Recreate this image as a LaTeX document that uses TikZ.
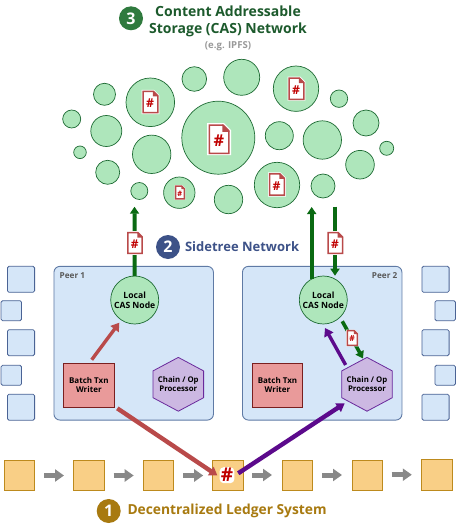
\documentclass[tikz,border=0pt]{standalone}
\usepackage{fontspec}
\setmainfont{Open Sans}[BoldFont={* Bold}]
\usetikzlibrary{arrows.meta,calc}
\definecolor{casfill}{HTML}{AEE6BB}
\definecolor{casline}{HTML}{1E6B34}
\definecolor{peerfill}{HTML}{D5E6F8}
\definecolor{peerline}{HTML}{5F7AA5}
\definecolor{sideline}{HTML}{4A6395}
\definecolor{wrfill}{HTML}{E99A9A}
\definecolor{wrline}{HTML}{7A1F1F}
\definecolor{hexfill}{HTML}{CCB8E2}
\definecolor{hexline}{HTML}{6A2A9C}
\definecolor{ledfill}{HTML}{F9CF86}
\definecolor{ledline}{HTML}{BD8A1D}
\definecolor{greyarrow}{HTML}{888888}
\definecolor{redarrow}{HTML}{B94A4A}
\definecolor{greenarrow}{HTML}{0A6A12}
\definecolor{purplearrow}{HTML}{5C0A8C}
\definecolor{hashred}{HTML}{C00000}
\definecolor{titlegreen}{HTML}{1C5A2C}
\definecolor{badgegreen}{HTML}{2F7A3E}
\definecolor{titleblue}{HTML}{3D5288}
\definecolor{titlegold}{HTML}{A87A10}
\tikzset{
  x=1pt,y=-1pt,
  every node/.style={inner sep=0pt,outer sep=0pt,font=\bfseries},
  casnode/.style={circle,draw=casline,fill=casfill,line width=0.7pt,minimum size=#1},
  peerbox/.style={rectangle,rounded corners=6pt,draw=peerline,fill=peerfill,line width=0.9pt,minimum width=159.5pt,minimum height=153.7pt},
  sidebig/.style={rectangle,rounded corners=1.5pt,draw=sideline,fill=peerfill,line width=0.8pt,minimum width=27.2pt,minimum height=26pt},
  sidesmall/.style={rectangle,rounded corners=1.5pt,draw=sideline,fill=peerfill,line width=0.8pt,minimum width=20.5pt,minimum height=20pt},
  writerbox/.style={rectangle,draw=wrline,fill=wrfill,line width=0.8pt,minimum width=50.3pt,minimum height=43.7pt,align=center,font=\bfseries\fontsize{8}{9}\selectfont,text=black},
  hexlabel/.style={rectangle,minimum width=50.7pt,minimum height=53.7pt,align=center,font=\bfseries\fontsize{7.8}{9}\selectfont,text=black},
  caslabel/.style={align=center,font=\bfseries\fontsize{8.6}{10}\selectfont,text=black},
  ledger/.style={rectangle,draw=ledline,fill=ledfill,line width=0.8pt,minimum size=30.4pt},
  greyarr/.style={-{Triangle[length=9pt,width=12pt]},line width=5pt,draw=greyarrow},
  redarr/.style={-{Triangle[length=8pt,width=10pt]},draw=redarrow,line width=#1},
  greenarr/.style={-{Triangle[length=7pt,width=9pt]},draw=greenarrow,line width=#1},
  purplearr/.style={-{Triangle[length=8pt,width=10pt]},draw=purplearrow,line width=#1},
  badge/.style={circle,minimum size=24pt,text=white,font=\bfseries\fontsize{16}{16}\selectfont},
  peerlabel/.style={text=black!65,font=\bfseries\fontsize{8.2}{9}\selectfont},
  doc/.pic={
    \fill[white] (-8.8,-11.8) -- (3.6,-11.8) -- (8.8,-6.6) -- (8.8,11.8) -- (-8.8,11.8) -- cycle;
    \draw[redarrow,line width=1.5pt,fill=white] (-7.2,-10.4) -- (2.8,-10.4) -- (7.2,-6) -- (7.2,10.4) -- (-7.2,10.4) -- cycle;
    \fill[redarrow] (2.4,-11) -- (7.8,-5.4) -- (2.4,-5.4) -- cycle;
    \node[transform shape,text=hashred,font=\bfseries\fontsize{12}{12}\selectfont] at (-0.3,1.4) {\#};
  },
}
\newcommand{\hexpath}[2]{%
  \draw[draw=hexline,fill=hexfill,line width=0.8pt,line join=round]
    (#1,#2-26.9) -- (#1+25.3,#2-13.4) -- (#1+25.3,#2+13.4) -- (#1,#2+26.9) -- (#1-25.3,#2+13.4) -- (#1-25.3,#2-13.4) -- cycle;}
\begin{document}
\begin{tikzpicture}
\useasboundingbox (0,0) rectangle (458,527);
\fill[white] (0,0) rectangle (458,527);

% titles
\node[badge,fill=badgegreen] (b3) at (131,18.3) {3};
\node[align=center,text=titlegreen,font=\bfseries\fontsize{14}{17}\selectfont] (t3) at (228,21) {Content Addressable\\Storage (CAS) Network};
\node[text=black!40,font=\bfseries\fontsize{9.6}{11}\selectfont] (t3b) at (228,46) {(e.g. IPFS)};
\node[badge,fill=titleblue] (b2) at (168,247) {2};
\node[anchor=west,text=titleblue,font=\bfseries\fontsize{13}{14}\selectfont] (t2) at (185,247) {Sidetree Network};
\node[badge,fill=titlegold] (b1) at (108.7,511) {1};
\node[anchor=west,text=titlegold,font=\bfseries\fontsize{13.8}{14}\selectfont] (t1) at (127.5,511) {Decentralized Ledger System};

% CAS network
\node[casnode=22pt] (c1) at (104.5,94.3) {};
\node[casnode=48.6pt] (c2) at (150.3,102.3) {};
\node[casnode=24.6pt] (c3) at (194.3,79) {};
\node[casnode=18pt] (c4) at (71.7,119) {};
\node[casnode=31pt] (c5) at (106.3,131) {};
\node[casnode=38.4pt] (c6) at (151.7,154.3) {};
\node[casnode=12.6pt] (c7) at (80,152.3) {};
\node[casnode=24pt] (c8) at (107.7,172.3) {};
\node[casnode=17pt] (c9) at (139.3,191) {};
\node[casnode=31.4pt] (c10) at (179.3,192.7) {};
\node[casnode=73pt] (c11) at (218.3,137.7) {};
\node[casnode=36pt] (c12) at (241.7,77.3) {};
\node[casnode=45.4pt] (c13) at (296,88.7) {};
\node[casnode=17.4pt] (c14) at (339,98.7) {};
\node[casnode=26pt] (c15) at (366,123) {};
\node[casnode=14pt] (c16) at (386.7,148.3) {};
\node[casnode=28.6pt] (c17) at (360,164.7) {};
\node[casnode=38.4pt] (c18) at (322.3,140) {};
\node[casnode=28pt] (c19) at (279.3,135.7) {};
\node[casnode=45.4pt] (c20) at (277,185) {};
\node[casnode=24pt] (c21) at (323,186) {};
\node[casnode=28.4pt] (c22) at (228.5,199.5) {};

% peers
\node[peerbox] (p1) at (133.7,343.2) {};
\node[peerbox] (p2) at (322.2,343.2) {};
\node[peerlabel,anchor=west] (p1l) at (59.7,276) {Peer 1};
\node[peerlabel,anchor=east] (p2l) at (397.3,276) {Peer 2};

% side peers
\node[sidebig] (sl1) at (21,279.3) {};
\node[sidesmall] (sl2) at (11.3,310.7) {};
\node[sidebig] (sl3) at (21,342.7) {};
\node[sidesmall] (sl4) at (11.3,375.3) {};
\node[sidebig] (sl5) at (21,407.2) {};
\node[sidebig] (sr1) at (435.5,279.3) {};
\node[sidesmall] (sr2) at (445.2,310.7) {};
\node[sidebig] (sr3) at (435.5,342.7) {};
\node[sidesmall] (sr4) at (445.2,375.3) {};
\node[sidebig] (sr5) at (435.5,407.2) {};

% inside peers
\node[casnode=48pt] (cas1) at (134.7,300) {};
\node[caslabel] at (cas1) {Local\\CAS Node};
\node[casnode=48pt] (cas2) at (323.3,300) {};
\node[caslabel] at (cas2) {Local\\CAS Node};
\node[writerbox] (w1) at (88.85,385.2) {Batch Txn\\Writer};
\node[writerbox] (w2) at (277.5,385.2) {Batch Txn\\Writer};
\hexpath{178.3}{384.3}
\node[hexlabel] (h1) at (178.3,384.3) {Chain / Op\\Processor};
\hexpath{367}{384.3}
\node[hexlabel] (h2) at (367,384.3) {Chain / Op\\Processor};

% ledger
\node[ledger] (l1) at (19.5,475.5) {};
\node[ledger] (l2) at (88.8,475.5) {};
\node[ledger] (l3) at (158.5,475.5) {};
\node[ledger] (l4) at (228,475.5) {};
\node[ledger] (l5) at (297.5,475.5) {};
\node[ledger] (l6) at (367.5,475.5) {};
\node[ledger] (l7) at (437,475) {};
\draw[greyarr] ([shift={(9.6,0)}]l1.east) -- ([shift={(-9.6,0)}]l2.west);
\draw[greyarr] ([shift={(9.6,0)}]l2.east) -- ([shift={(-9.6,0)}]l3.west);
\draw[greyarr] ([shift={(9.6,0)}]l3.east) -- ([shift={(-9.6,0)}]l4.west);
\draw[greyarr] ([shift={(8.8,-0.5)}]l4.east) -- ([shift={(-10.3,-0.5)}]l5.west);
\draw[greyarr] ([shift={(9.3,-0.5)}]l5.east) -- ([shift={(-10.3,-0.5)}]l6.west);
\draw[greyarr] ([shift={(9,-0.8)}]l6.east) -- ([shift={(-10,-0.3)}]l7.west);

% connectors
\draw[greenarr=4pt] (cas1.north) -- ([shift={(-4.8,7.2)}]c9.south);
\draw[greenarr=4pt] ([shift={(-11.6,3)}]cas2.north) -- ([shift={(-11.3,9)}]c21.south);
\draw[greenarr=4pt] ([shift={(12,8.7)}]c21.south) -- ([shift={(11.7,-0.3)}]cas2.north);
\draw[greenarr=3.6pt] ([shift={(2,4.3)}]cas2.south east) -- ([shift={(-4,1)}]h2.north);
\draw[purplearr=3.4pt] ([shift={(4,7.5)}]h2.north west) -- ([shift={(1.7,4)}]cas2.south);
\draw[redarr=3.4pt] ([shift={(2.85,-3.6)}]w1.north) -- ([shift={(1.6,5.7)}]cas1.south west);
\draw[redarr=4.4pt] ([shift={(3.3,1.3)}]w1.south east) -- ([shift={(4.6,0)}]l4.west);
\draw[purplearr=4.4pt] ([shift={(-5,-2.2)}]l4.east) -- ([shift={(-22.3,19)}]h2.center);

% ledger hash
\node[text=hashred,font=\bfseries\fontsize{19}{19}\selectfont,fill=white,inner sep=1.2pt,rounded corners=4pt] (hash) at (227,475.2) {\#};

% documents
\pic[scale=1.02] at (150.5,102) {doc};
\pic[scale=1.36] at (219.2,139.2) {doc};
\pic[scale=0.62] at (180,192.5) {doc};
\pic[scale=1.02] at (296.5,88.7) {doc};
\pic[scale=1.02] at (277,184.5) {doc};
\pic[scale=1] at (135,243) {doc};
\pic[scale=1] at (335.3,243) {doc};
\pic[scale=0.7] at (352.3,338) {doc};
\end{tikzpicture}
\end{document}
